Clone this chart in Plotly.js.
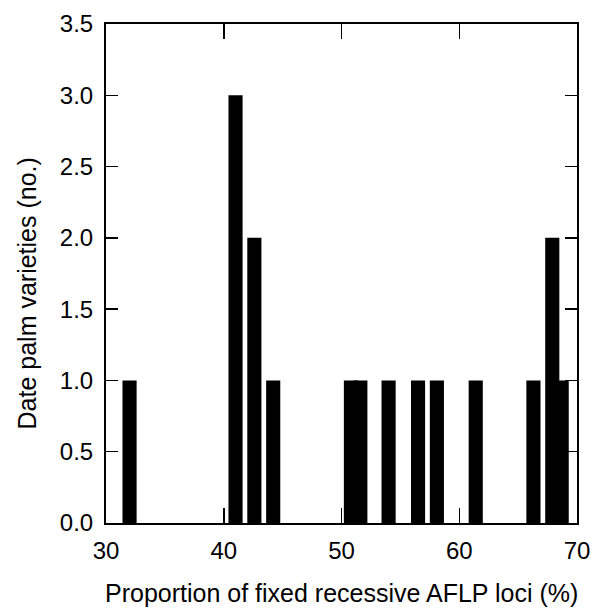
<!DOCTYPE html>
<html>
<head>
<meta charset="utf-8">
<script src="https://cdn.plot.ly/plotly-3.0.1.min.js"></script>
<style>html,body{margin:0;padding:0;background:#fff;}#chart{width:597px;height:610px;}</style>
</head>
<body>
<div id="chart"></div>
<script>
// Proportion of fixed recessive AFLP loci (%) for each bar position
const proportion = [32.0, 41.0, 42.6, 44.2, 50.8, 51.6, 54.0, 56.5, 58.1, 61.4, 66.3, 67.9, 68.7];
// Number of date palm varieties
const varieties = [1, 3, 2, 1, 1, 1, 1, 1, 1, 1, 1, 2, 1];
const xTicks = [30, 40, 50, 60, 70];
const yTicks = [0, 0.5, 1, 1.5, 2, 2.5, 3, 3.5];
const xTitle = 'Proportion of fixed recessive AFLP loci (%)';
const yTitle = 'Date palm varieties (no.)';

const font = {family: 'Liberation Sans, Arial, sans-serif', size: 24, color: '#000'};
const titleFont = {family: 'Liberation Sans, Arial, sans-serif', size: 25, color: '#000'};

const trace = {
  type: 'bar',
  x: proportion,
  y: varieties,
  width: 1.2,
  marker: {color: '#000', line: {width: 0}},
  hoverinfo: 'x+y'
};

const layout = {
  width: 597, height: 610,
  margin: {l: 106, r: 20, t: 24, b: 87},
  paper_bgcolor: '#fff', plot_bgcolor: '#fff',
  showlegend: false,
  barmode: 'overlay',
  font: font,
  xaxis: {
    range: [30, 70],
    tickvals: xTicks,
    ticktext: xTicks.map(String),
    ticks: 'inside', ticklen: 15, tickwidth: 1.5, tickcolor: '#000',
    showline: true, linewidth: 2, linecolor: '#000', mirror: 'ticks',
    showgrid: false, zeroline: false,
    tickfont: font,
    ticklabelstandoff: 5
  },
  yaxis: {
    range: [0, 3.5],
    tickvals: yTicks,
    ticktext: yTicks.map(v => v.toFixed(1)),
    ticks: 'inside', ticklen: 12, tickwidth: 1.5, tickcolor: '#000',
    showline: true, linewidth: 2, linecolor: '#000', mirror: 'ticks',
    showgrid: false, zeroline: false,
    tickfont: font,
    ticklabelstandoff: 6
  },
  annotations: [
    {text: xTitle, xref: 'paper', yref: 'paper', x: 0.5, y: 0, yshift: -70,
     xanchor: 'center', yanchor: 'middle', showarrow: false, font: titleFont},
    {text: yTitle, xref: 'paper', yref: 'paper', x: 0, xshift: -79, y: 0.46,
     xanchor: 'center', yanchor: 'middle', textangle: -90, showarrow: false, font: titleFont}
  ]
};

Plotly.newPlot('chart', [trace], layout, {displayModeBar: false, staticPlot: true});
</script>
</body>
</html>
